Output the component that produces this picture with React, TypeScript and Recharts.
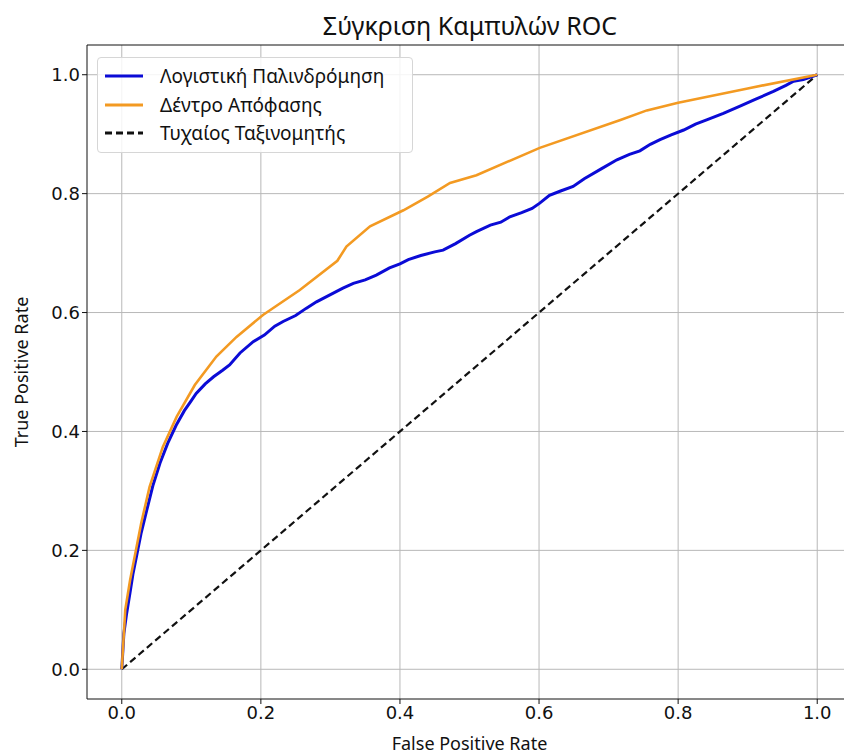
import { LineChart, Line, XAxis, YAxis, CartesianGrid, ReferenceLine } from 'recharts'

// ROC points
const lrFpr = [
  0, 0.003, 0.007, 0.012, 0.016, 0.021, 0.028, 0.036, 0.045, 0.055, 0.066, 0.078, 0.09, 0.1, 0.107, 0.12,
  0.132, 0.145, 0.155, 0.17, 0.189, 0.205, 0.22, 0.232, 0.25, 0.265, 0.28, 0.3, 0.318, 0.333, 0.35, 0.366,
  0.385, 0.4, 0.412, 0.43, 0.45, 0.462, 0.48, 0.5, 0.51, 0.53, 0.545, 0.558, 0.575, 0.59, 0.601, 0.615,
  0.63, 0.649, 0.665, 0.69, 0.712, 0.73, 0.745, 0.76, 0.774, 0.79, 0.808, 0.825, 0.841, 0.865, 0.889, 0.91,
  0.937, 0.955, 0.966, 0.98, 1,
]
const lrTpr = [
  0, 0.06, 0.094, 0.13, 0.16, 0.189, 0.23, 0.268, 0.31, 0.347, 0.38, 0.41, 0.435, 0.452, 0.464, 0.48,
  0.492, 0.503, 0.512, 0.532, 0.551, 0.562, 0.577, 0.585, 0.595, 0.607, 0.618, 0.63, 0.641, 0.649, 0.655, 0.663,
  0.675, 0.682, 0.689, 0.696, 0.702, 0.705, 0.716, 0.73, 0.736, 0.747, 0.752, 0.761, 0.768, 0.775, 0.784, 0.797,
  0.804, 0.812, 0.825, 0.842, 0.857, 0.866, 0.872, 0.883, 0.891, 0.899, 0.907, 0.917, 0.924, 0.935, 0.947, 0.958,
  0.972, 0.982, 0.989, 0.992, 1,
]

const dtFpr = [
  0, 0.005, 0.012, 0.028, 0.04, 0.059, 0.079, 0.105, 0.136, 0.165, 0.203, 0.256, 0.31, 0.323, 0.357, 0.405,
  0.44, 0.472, 0.51, 0.601, 0.717, 0.755, 0.8, 0.9, 1,
]
const dtTpr = [
  0, 0.1, 0.15, 0.246, 0.307, 0.374, 0.425, 0.478, 0.526, 0.559, 0.596, 0.638, 0.687, 0.711, 0.745, 0.772,
  0.795, 0.818, 0.831, 0.877, 0.924, 0.94, 0.953, 0.977, 1,
]

const baseFpr = [0, 1]
const baseTpr = [0, 1]

const ticks = [0, 0.2, 0.4, 0.6, 0.8, 1.0]

const seriesNames = ['Λογιστική Παλινδρόμηση', 'Δέντρο Απόφασης', 'Τυχαίος Ταξινομητής']

const toPoints = (xs: number[], ys: number[]) => xs.map((x, i) => ({ fpr: x, tpr: ys[i] }))

const lrData = toPoints(lrFpr, lrTpr)
const dtData = toPoints(dtFpr, dtTpr)
const baseData = toPoints(baseFpr, baseTpr)

const BLUE = '#0b0bd6'
const ORANGE = '#f39a22'
const textFont = '"Noto Sans", "DejaVu Sans", sans-serif'
const tickFont = '"DejaVu Sans", sans-serif'

function RocLegend() {
  const items = [
    { name: seriesNames[0], color: BLUE, dash: undefined },
    { name: seriesNames[1], color: ORANGE, dash: undefined },
    { name: seriesNames[2], color: '#111', dash: '7 4' },
  ]
  return (
    <div
      style={{
        position: 'absolute',
        left: 97,
        top: 57,
        width: 316,
        height: 96,
        boxSizing: 'border-box',
        background: 'rgba(255,255,255,0.85)',
        border: '1px solid #d6d6d6',
        borderRadius: 4,
        paddingTop: 4,
        fontFamily: textFont,
        fontSize: 19,
        color: '#111',
      }}
    >
      {items.map((it) => (
        <div key={it.name} style={{ display: 'flex', alignItems: 'center', height: 28.5 }}>
          <svg width={40} height={6} style={{ marginLeft: 6, marginRight: 16 }}>
            <line x1={1} y1={3} x2={39} y2={3} stroke={it.color} strokeWidth={3} strokeDasharray={it.dash} />
          </svg>
          <span style={{ whiteSpace: 'nowrap' }}>{it.name}</span>
        </div>
      ))}
    </div>
  )
}

export default function App() {
  return (
    <div style={{ position: 'absolute', left: 0, top: 0, width: 844, height: 756, overflow: 'hidden', background: '#fff' }}>
      <div
        style={{
          position: 'absolute',
          left: 0,
          width: 940,
          top: 10,
          textAlign: 'center',
          fontFamily: textFont,
          fontSize: 25,
          lineHeight: '30px',
          color: '#111',
        }}
      >
        Σύγκριση Καμπυλών ROC
      </div>
      <LineChart width={870} height={756} margin={{ top: 45, right: 18, left: 0, bottom: 0 }}>
        <CartesianGrid stroke="#b8b8b8" strokeWidth={1} horizontalValues={ticks} verticalValues={ticks} />
        <XAxis
          dataKey="fpr"
          type="number"
          domain={[-0.05, 1.05]}
          ticks={ticks}
          allowDataOverflow
          tickFormatter={(v: number) => v.toFixed(1)}
          height={57}
          tickSize={5}
          stroke="#111"
          tick={{ fontFamily: tickFont, fontSize: 18, fill: '#111' }}
          label={{ value: 'False Positive Rate', position: 'insideBottom', offset: 6, style: { fontFamily: textFont, fontSize: 18, fill: '#111' } }}
        />
        <YAxis
          type="number"
          domain={[-0.05, 1.05]}
          ticks={ticks}
          allowDataOverflow
          tickFormatter={(v: number) => v.toFixed(1)}
          width={87}
          tickSize={5}
          stroke="#111"
          tick={{ fontFamily: tickFont, fontSize: 18, fill: '#111' }}
          label={{ value: 'True Positive Rate', angle: -90, position: 'insideLeft', offset: 22, style: { fontFamily: textFont, fontSize: 18, fill: '#111', textAnchor: 'middle' } }}
        />
        <ReferenceLine y={1.05} stroke="#111" strokeWidth={1} />
        <Line data={baseData} dataKey="tpr" name={seriesNames[2]} stroke="#111" strokeWidth={2.2} strokeDasharray="7 4" dot={false} isAnimationActive={false} type="linear" />
        <Line data={lrData} dataKey="tpr" name={seriesNames[0]} stroke={BLUE} strokeWidth={3} dot={false} isAnimationActive={false} type="linear" />
        <Line data={dtData} dataKey="tpr" name={seriesNames[1]} stroke={ORANGE} strokeWidth={2.6} dot={false} isAnimationActive={false} type="linear" />
      </LineChart>
      <RocLegend />
    </div>
  )
}
